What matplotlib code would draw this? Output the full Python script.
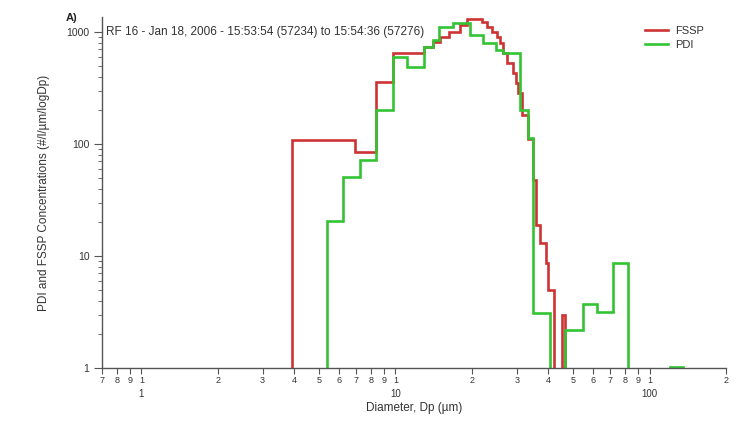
import numpy as np
import matplotlib
matplotlib.use("Agg")
import matplotlib.pyplot as plt
from matplotlib.ticker import FixedLocator, FuncFormatter, NullFormatter, LogLocator
from matplotlib.transforms import blended_transform_factory

plt.rcParams['font.family'] = ['Liberation Sans', 'DejaVu Sans']

# FSSP size distribution (bin edges in um, concentration per bin)
fssp_edges = [3.93, 6.96, 8.42, 9.82, 12.9, 14.0, 15.0, 16.2, 18.0, 19.2, 22.0,
              23.0, 24.1, 25.2, 25.9, 26.6, 27.6, 28.9, 29.7, 30.5, 31.6, 33.1,
              34.9, 35.6, 37.2, 39.0, 40.0, 41.9, 45.4, 46.7]
fssp_conc = [108, 85, 357, 650, 740, 812, 900, 1000, 1150, 1300, 1240,
             1100, 1000, 900, 800, 650, 530, 430, 350, 285, 180, 110,
             48, 19, 13, 8.6, 5, 0, 3]

# PDI size distribution
pdi_edges = [5.40, 6.24, 7.28, 8.42, 9.82, 11.1, 12.9, 14.0, 14.8, 16.9, 19.7,
             22.2, 24.8, 26.6, 31.0, 33.1, 34.9, 40.7, 46.7, 54.5, 62.4, 72.1,
             82.6, 120, 135]
pdi_conc = [20.5, 50.8, 72, 200, 600, 490, 740, 850, 1100, 1200,
            940, 800, 690, 650, 200, 113, 3.1, 0, 2.2, 3.7, 3.16,
            8.65, 0, 1.02]

decades = [1, 10, 100]
minor_digits = [0.7, 0.8, 0.9, 2, 3, 4, 5, 6, 7, 8, 9,
                20, 30, 40, 50, 60, 70, 80, 90, 200]

fig = plt.figure(figsize=(7.5, 4.24), dpi=100)
ax = fig.add_axes([0.136, 0.132, 0.832, 0.827])

ax.stairs(fssp_conc, fssp_edges, baseline=0, color='#cc3333', lw=1.9, label='FSSP')
ax.stairs(pdi_conc, pdi_edges, baseline=0, color='#33c433', lw=1.9, label='PDI')

ax.set_xscale('log')
ax.set_yscale('log')
ax.set_xlim(0.7, 200)
ax.set_ylim(1, 1350)

for s in ['top', 'right']:
    ax.spines[s].set_visible(False)
for s in ['left', 'bottom']:
    ax.spines[s].set_color('#555555')
    ax.spines[s].set_linewidth(1.0)

# x ticks: every integer multiple gets a digit, decades get an extra label
ax.xaxis.set_major_locator(FixedLocator(decades))
ax.xaxis.set_minor_locator(FixedLocator(minor_digits))
ax.xaxis.set_major_formatter(FuncFormatter(lambda v, p: "1"))
ax.xaxis.set_minor_formatter(FuncFormatter(lambda v, p: "%d" % round(v / 10 ** np.floor(np.log10(v) + 1e-9))))
ax.tick_params(axis='x', which='both', length=4, width=0.8, color='#555555',
               labelsize=6.5, pad=2, labelcolor='#333333')
trans = blended_transform_factory(ax.transData, ax.transAxes)
for d in decades:
    ax.text(d, -0.06, str(d), transform=trans, ha='center', va='top',
            fontsize=7, color='#333333')

ax.yaxis.set_major_locator(FixedLocator([1, 10, 100, 1000]))
ax.yaxis.set_major_formatter(FuncFormatter(lambda v, p: "%d" % v))
ax.yaxis.set_minor_locator(LogLocator(base=10, subs=np.arange(2, 10)))
ax.yaxis.set_minor_formatter(NullFormatter())
ax.tick_params(axis='y', which='major', length=6, width=0.8, color='#555555',
               labelsize=7.5, pad=3, labelcolor='#333333')
ax.tick_params(axis='y', which='minor', length=3, width=0.6, color='#555555')

ax.set_xlabel('Diameter, Dp (µm)', fontsize=8.5, color='#333333', labelpad=12)
ax.set_ylabel('PDI and FSSP Concentrations (#/l/µm/logDp)', fontsize=8.5,
              color='#333333', labelpad=12)

ax.text(0.007, 0.975, 'RF 16 - Jan 18, 2006 - 15:53:54 (57234) to 15:54:36 (57276)',
        transform=ax.transAxes, fontsize=8.5, color='#333333', va='top', ha='left')
fig.text(0.088, 0.958, 'A)', fontsize=8, fontweight='bold', color='#222222',
         va='center', ha='left')

leg = ax.legend(loc='upper right', bbox_to_anchor=(0.975, 0.995), frameon=False,
                fontsize=8, handlelength=2.1, handletextpad=0.6,
                labelspacing=0.35, borderaxespad=0.2)
for t in leg.get_texts():
    t.set_color('#333333')

fig.savefig('out.png', dpi=100)
